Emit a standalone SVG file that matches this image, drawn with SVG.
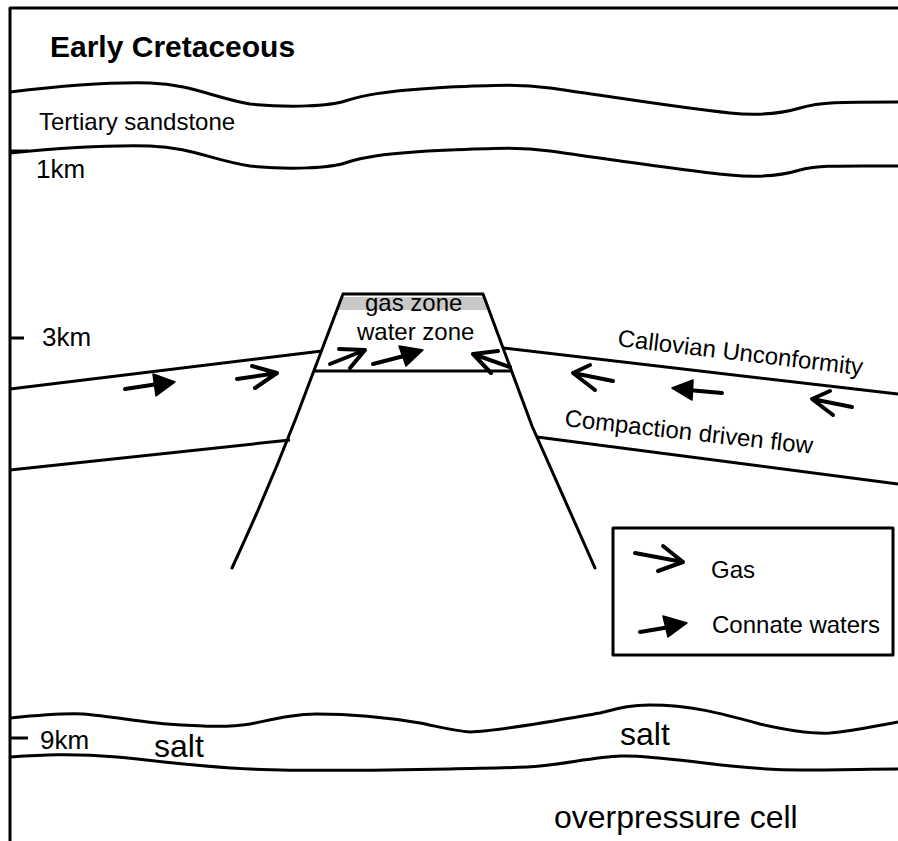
<svg xmlns="http://www.w3.org/2000/svg" width="898" height="841" viewBox="0 0 898 841">
  <style>
    .ln { fill: none; stroke: #000; stroke-width: 3; stroke-linejoin: round; }
    .arr { fill: none; stroke: #000; stroke-width: 4; stroke-linecap: round; stroke-linejoin: round; }
    .head { fill: #000; stroke: #000; stroke-width: 1.5; stroke-linejoin: round; }
    .t { font-family: "Liberation Sans", Arial, sans-serif; font-size: 24px; fill: #000; }
    .km { font-size: 26px; }
    .big { font-size: 32px; }
    .title { font-size: 30px; font-weight: bold; }
  </style>
  <rect width="898" height="841" fill="#fff"/>

  <!-- frame: depth axis and top edge -->
  <g id="frame">
    <path class="ln" d="M10,841 V8 H898"/>
    <path class="ln" d="M10,151 H28"/>
    <path class="ln" d="M10,338 H24"/>
    <path class="ln" d="M10,738 H28"/>
  </g>

  <g id="title"><text class="t title" x="50" y="57">Early Cretaceous</text></g>

  <!-- Tertiary sandstone layer -->
  <g id="sandstone">
    <path class="ln" d="M10,92 C60,86 110,82 150,83 C190,84 215,98 250,104 C290,108 330,106 345,101 C360,96 380,91 450,87 C500,85 520,84 550,88 C600,95 680,108 730,113 C760,116 780,114 800,108 C820,102 840,102 898,102"/>
    <path class="ln" d="M10,153 C60,148 110,145 150,146 C190,147 215,161 250,166 C290,170 330,168 345,163 C360,158 380,153 450,150 C500,148 520,147 550,151 C600,158 680,170 730,175 C760,178 780,176 800,170 C820,165 840,166 898,166"/>
    <text class="t" x="39" y="130">Tertiary sandstone</text>
  </g>

  <g id="depth-labels">
    <text class="t km" x="36" y="178">1km</text>
    <text class="t km" x="42" y="346">3km</text>
    <text class="t km" x="40" y="749">9km</text>
  </g>

  <!-- faulted reservoir block -->
  <g id="horst">
    <polygon points="342,297 484,297 489,310 337,310" fill="#c8c8c8"/>
    <path class="ln" d="M343,294 H483"/>
    <path class="ln" d="M314,371 H512"/>
    <path class="ln" d="M343,294 L296,418 Q266,495 232,568" stroke-linecap="round"/>
    <path class="ln" d="M483,294 L532,426 Q565,500 595,568" stroke-linecap="round"/>
    <text class="t" x="365" y="311">gas zone</text>
    <text class="t" x="357" y="340">water zone</text>
  </g>

  <!-- carrier beds either side of the faults -->
  <g id="left-block">
    <path class="ln" d="M10,389 L322,351"/>
    <path class="ln" d="M10,470 L290,440"/>
  </g>
  <g id="right-block">
    <path class="ln" d="M503,348 L898,394"/>
    <path class="ln" d="M537,437 L898,484"/>
    <text class="t" transform="translate(617,346) rotate(6.8)">Callovian Unconformity</text>
    <text class="t" transform="translate(564,426) rotate(6.4)">Compaction driven flow</text>
  </g>

  <!-- flow arrows -->
  <g id="connectors">
    <!-- connate waters (filled heads) -->
    <path class="arr" d="M125,389 L158,384"/>
    <polygon class="head" points="175,382 153,374 156,396"/>
    <path class="arr" d="M373,364 L404,356"/>
    <polygon class="head" points="423,350 399,346 406,366"/>
    <path class="arr" d="M722,393 L688,390"/>
    <polygon class="head" points="672,388 693,380 692,400"/>
    <!-- gas (open heads) -->
    <path class="arr" d="M237,379 L277,373 M252,366 L277,373 L255,388"/>
    <path class="arr" d="M330,364 L365,350 M339,349 L365,350 L350,368"/>
    <path class="arr" d="M510,367 L473,354 M498,351 L473,354 L491,373"/>
    <path class="arr" d="M613,381 L573,373 M590,365 L573,373 L595,390"/>
    <path class="arr" d="M852,407 L812,399 M830,391 L812,399 L833,415"/>
  </g>

  <!-- legend -->
  <g id="legend">
    <rect class="ln" x="613" y="528" width="280" height="127"/>
    <path class="arr" d="M635,553 L683,562 M663,546 L683,562 L658,571"/>
    <text class="t" x="711" y="578">Gas</text>
    <path class="arr" d="M640,632 L670,627"/>
    <polygon class="head" points="687,623 663,616 668,637"/>
    <text class="t" x="712" y="633">Connate waters</text>
  </g>

  <!-- salt layer and overpressure cell -->
  <g id="salt">
    <path class="ln" d="M10,718 C30,716 60,713 83,714 C110,716 140,722 167,724 C200,726 225,728 250,724 C275,719 295,714 317,714 C350,714 390,718 420,723 C440,727 455,731 470,732 C500,731 560,720 600,713 C620,708 630,705 650,705 C690,705 720,713 760,724 C790,731 810,734 830,733 C855,731 875,726 898,722"/>
    <path class="ln" d="M10,757 C40,755 70,753 117,757 C150,760 200,767 250,769 C300,771 400,770 450,769 C490,768 520,768 540,766 C570,763 595,757 621,756 C650,755 690,762 731,766 C760,769 780,770 800,770 C840,770 870,769 898,769"/>
    <text class="t big" x="154" y="757">salt</text>
    <text class="t big" x="620" y="745">salt</text>
    <text class="t big" x="554" y="828">overpressure cell</text>
  </g>
</svg>
